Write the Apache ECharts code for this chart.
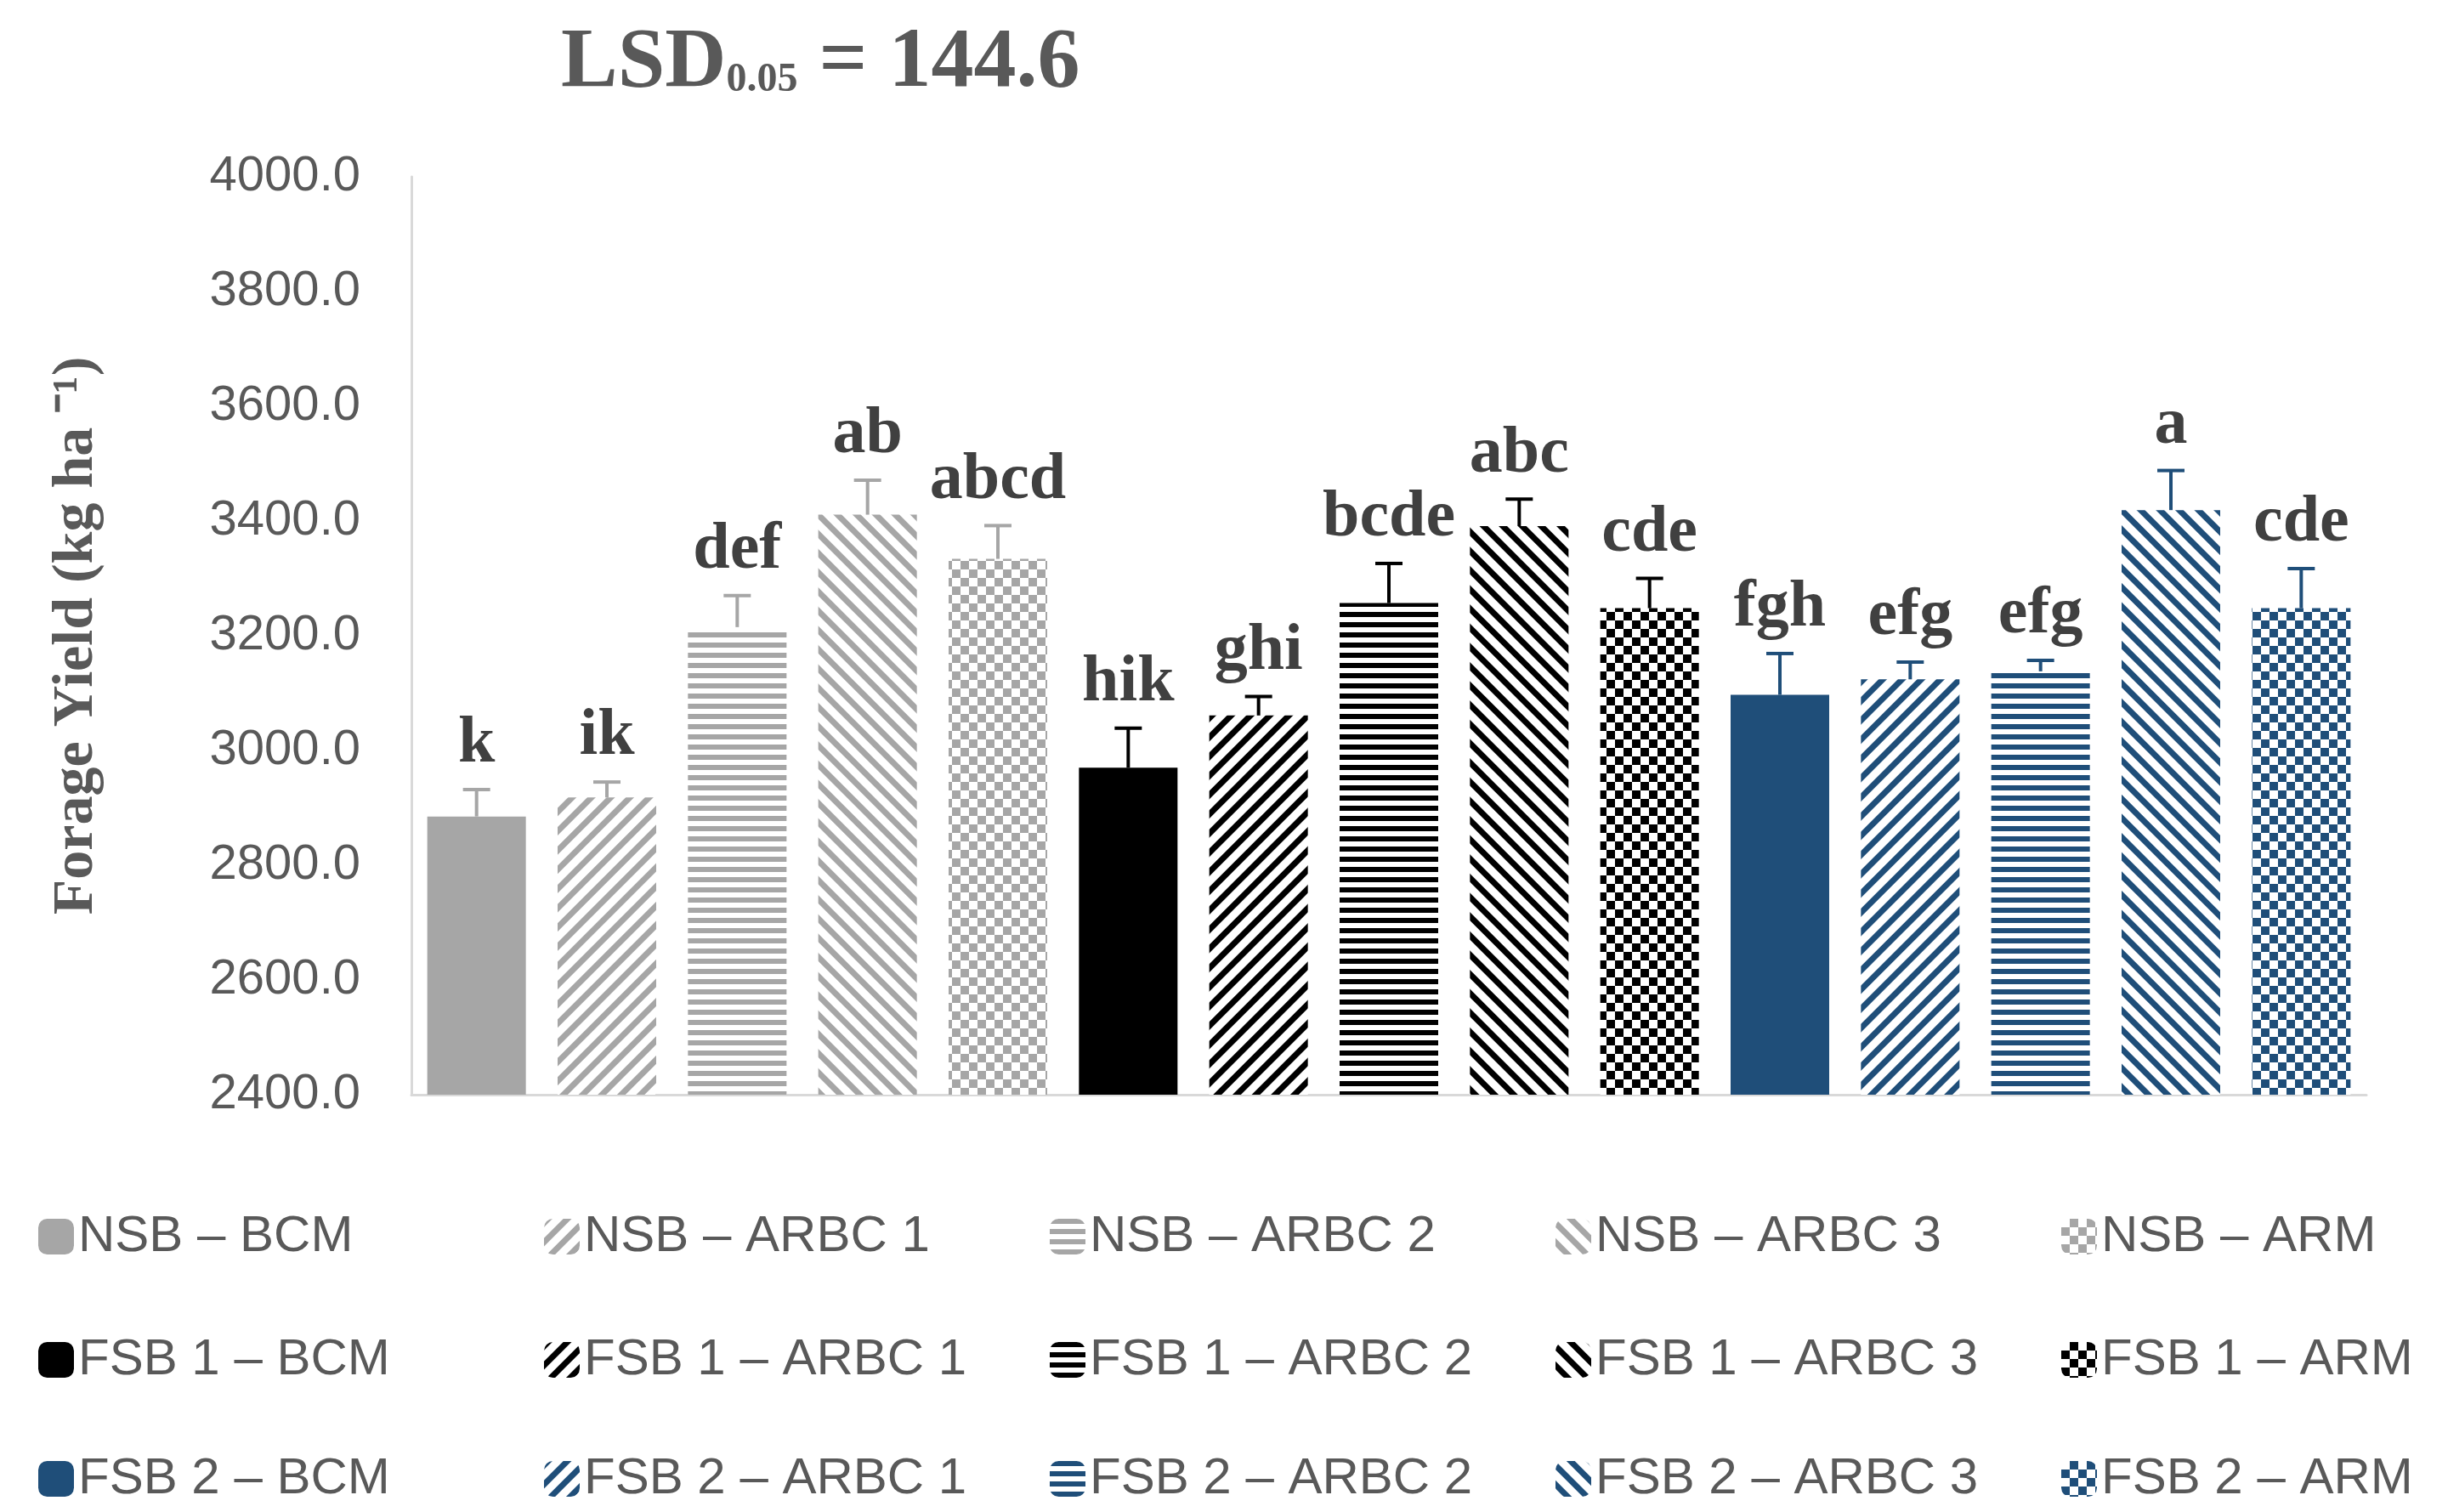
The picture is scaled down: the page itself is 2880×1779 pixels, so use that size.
<!DOCTYPE html><html><head><meta charset="utf-8">
<script src="https://cdn.jsdelivr.net/npm/echarts@6/dist/echarts.min.js"></script>
<style>html,body{margin:0;background:#fff}#c{width:2880px;height:1779px}</style></head><body><div id="c"></div>
<script>
const names=['NSB – BCM','NSB – ARBC 1','NSB – ARBC 2','NSB – ARBC 3','NSB – ARM',
'FSB 1 – BCM','FSB 1 – ARBC 1','FSB 1 – ARBC 2','FSB 1 – ARBC 3','FSB 1 – ARM',
'FSB 2 – BCM','FSB 2 – ARBC 1','FSB 2 – ARBC 2','FSB 2 – ARBC 3','FSB 2 – ARM'];
const values=[2885,2918,3215,3411,3334,2970,3061,3257,3391,3248,3097,3124,3138,3419,3248];
const errors=[47,27,55,60,58,69,33,69,47,52,72,30,19,69,69];
const letters=['k','ik','def','ab','abcd','hik','ghi','bcde','abc','cde','fgh','efg','efg','a','cde'];
const groupColors=['#a6a6a6','#000000','#1f4e79'];
const patterns=['solid','back','horiz','fwd','check'];
function decal(p,c){
  if(p==='back')return {symbol:'rect',color:c,dashArrayX:[1,0],dashArrayY:[7,9],rotation:-Math.PI/4,symbolSize:1};
  if(p==='fwd')return {symbol:'rect',color:c,dashArrayX:[1,0],dashArrayY:[7,9],rotation:Math.PI/4,symbolSize:1};
  if(p==='horiz')return {symbol:'rect',color:c,dashArrayX:[1,0],dashArrayY:[6,6],rotation:0,symbolSize:1};
  return {symbol:'rect',color:c,dashArrayX:[[10,10],[0,10,10,0]],dashArrayY:[10,0],rotation:0,symbolSize:1};
}
const cats=names.map((n,i)=>String(i));
const series=names.map((n,i)=>{
  const c=groupColors[Math.floor(i/5)],p=patterns[i%5];
  const data=cats.map((_,j)=>j===i?values[i]:'-');
  const s={name:n,type:'bar',stack:'s',barWidth:116,data,
    itemStyle:{color:p==='solid'?c:'#fff'}};
  if(p!=='solid')s.itemStyle.decal=decal(p,c);
  return s;
});
series.push({type:'custom',name:'err',data:values.map((v,i)=>[i,v,errors[i]]),z:10,
  renderItem(params,api){
    const x=api.value(0),v=api.value(1),e=api.value(2);
    const p0=api.coord([x,v]),p1=api.coord([x,v+e]);
    const c=groupColors[Math.floor(x/5)];
    return {type:'group',children:[
      {type:'line',shape:{x1:p0[0],y1:p0[1],x2:p1[0],y2:p1[1]},style:{stroke:c,lineWidth:4}},
      {type:'line',shape:{x1:p1[0]-16,y1:p1[1],x2:p1[0]+16,y2:p1[1]},style:{stroke:c,lineWidth:4}},
      {type:'text',style:{text:letters[x],x:p1[0],y:p1[1]-14,align:'center',verticalAlign:'bottom',
        font:'bold 78px "Liberation Serif", serif',fill:'#404040'}}
    ]};
  }});
const colX=[40,635,1230,1825,2420],rowY=[1420,1565,1705];
const legends=names.map((n,i)=>({data:[n],left:colX[i%5],top:rowY[Math.floor(i/5)],
  itemWidth:42,itemHeight:42,textStyle:{fontSize:60,color:'#595959',fontFamily:'Liberation Sans'},selectedMode:false}));
const chart=echarts.init(document.getElementById('c'));
chart.setOption({animation:false,
  title:{text:'{a|LSD}{b|0.05}{a| = 144.6}',left:655,top:20,textStyle:{rich:{
    a:{fontSize:100,fontWeight:'bold',fontFamily:'Liberation Serif',color:'#595959'},
    b:{fontSize:48,fontWeight:'bold',fontFamily:'Liberation Serif',color:'#595959',padding:[40,0,0,0]}}}},
  legend:legends,
  grid:{left:484,right:0,top:208,height:1080,width:2300},
  xAxis:{type:'category',data:cats,axisLabel:{show:false},axisTick:{show:false},
    axisLine:{lineStyle:{color:'#d9d9d9',width:3}}},
  yAxis:{type:'value',min:2400,max:4000,interval:200,
    axisLine:{show:true,lineStyle:{color:'#d9d9d9',width:3}},splitLine:{show:false},
    axisLabel:{formatter:v=>v.toFixed(1),fontSize:58,color:'#595959',fontFamily:'Liberation Sans',margin:60},
    name:'Forage Yield (kg ha ⁻¹)',nameLocation:'middle',nameGap:360,
    nameTextStyle:{fontSize:68,fontWeight:'bold',fontFamily:'Liberation Serif',color:'#595959'}},
  series});
</script></body></html>
